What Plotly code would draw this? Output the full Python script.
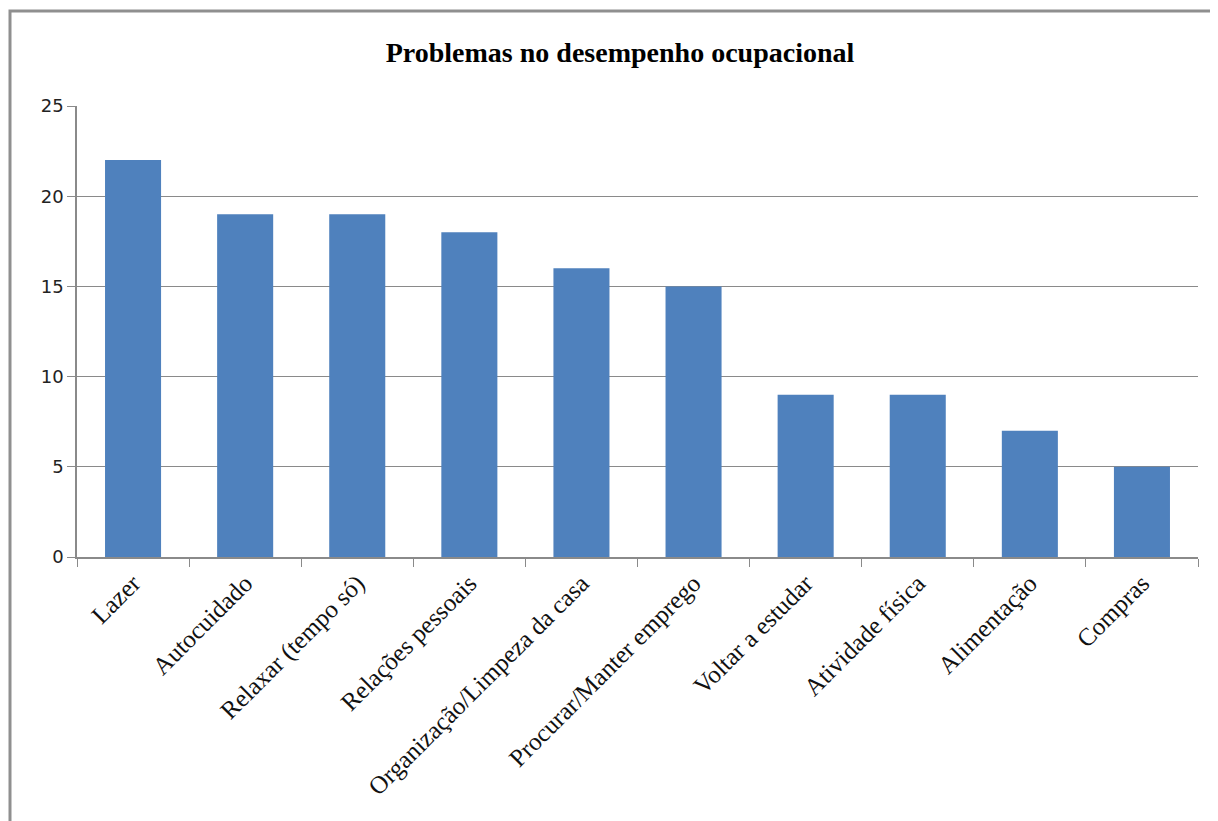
import plotly.graph_objects as go

categories = ["Lazer", "Autocuidado", "Relaxar (tempo só)", "Relações pessoais",
              "Organização/Limpeza da casa", "Procurar/Manter emprego",
              "Voltar a estudar", "Atividade física", "Alimentação", "Compras"]
values = [22, 19, 19, 18, 16, 15, 9, 9, 7, 5]
y_ticks = [0, 5, 10, 15, 20, 25]
title_text = "Problemas no desempenho ocupacional"

W, H = 1218, 821
OFF = 8  # page body offset
ml, mr, mt, mb = 77 - OFF, 20 + OFF, 106 - OFF, 264 + OFF
pw = W - ml - mr
ph = H - mt - mb

def px_x(p):
    return (p - OFF - ml) / pw

def px_y(p):
    return (H - mb - (p - OFF)) / ph

fig = go.Figure(go.Bar(
    x=categories, y=values,
    marker=dict(color="#4F81BD", line=dict(width=0)),
    width=0.5,
))

grid = "#8a8a8a"
fig.update_layout(
    width=W, height=H,
    margin=dict(l=ml, r=mr, t=mt, b=mb),
    paper_bgcolor="white", plot_bgcolor="white",
    showlegend=False,
    title=dict(text="<b>" + title_text + "</b>", x=(620 - OFF) / W, xref="container",
               xanchor="center", y=1 - (52 - OFF) / H, yref="container", yanchor="middle",
               font=dict(family="Liberation Serif", size=28, color="#000")),
    xaxis=dict(
        type="category", tickson="boundaries", ticks="outside", ticklen=8,
        tickcolor=grid, showline=True, linecolor=grid, linewidth=1.5,
        showgrid=False, tickangle=-45,
        tickfont=dict(family="Liberation Serif", size=25, color="#111"),
        range=[-0.5, 9.5],
    ),
    yaxis=dict(
        range=[0, 25], tickvals=y_ticks, ticks="outside", ticklen=8,
        tickcolor=grid, showline=True, linecolor=grid, linewidth=1.5,
        showgrid=True, gridcolor=grid, gridwidth=1.2, zeroline=False,
        tickfont=dict(family="DejaVu Sans", size=18, color="#222"),
    ),
    shapes=[dict(type="rect", xref="paper", yref="paper",
                 x0=px_x(10), x1=px_x(1240), y0=px_y(850), y1=px_y(11),
                 line=dict(color="#8f8f8f", width=3), fillcolor="rgba(0,0,0,0)",
                 layer="below")],
)

fig.write_html("out.html")
